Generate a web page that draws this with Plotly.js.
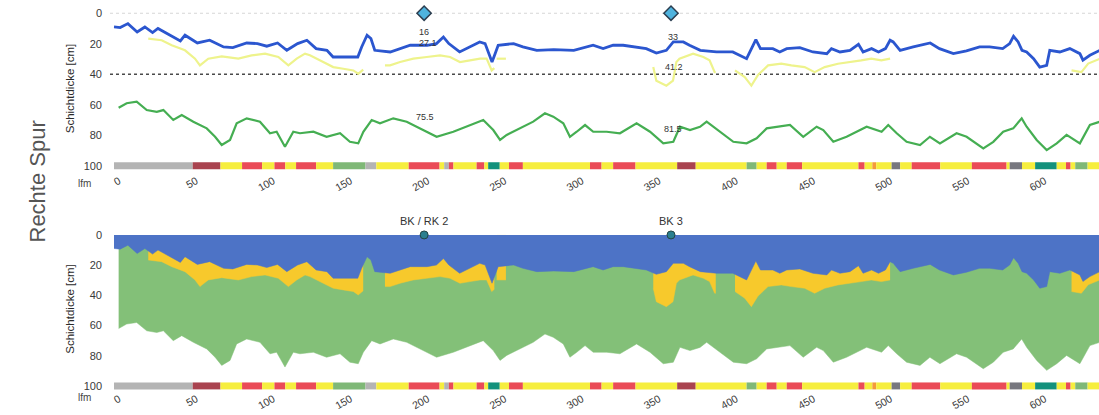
<!DOCTYPE html>
<html>
<head>
<meta charset="utf-8">
<script src="https://cdn.plot.ly/plotly-3.0.1.min.js"></script>
<style>html,body{margin:0;padding:0;background:#fff;}#chart{width:1099px;height:415px;}</style>
</head>
<body>
<div id="chart"></div>
<script>
// ---------- data (lfm = running metres, values = depth in cm) ----------
const blueX = [0, 4, 9, 15, 20, 25, 28.5, 34, 43, 46, 54, 62, 71, 77, 86, 93, 99, 106, 112, 119, 125, 131, 138, 142, 158, 160.5, 164, 166.5, 169, 179, 185, 192, 203, 209, 213.5, 217, 224, 231, 237, 240.5, 242.5, 245, 247, 249, 259, 265, 274, 285, 298, 310.5, 317, 323.5, 330, 336.5, 345, 351.5, 358, 362.5, 369, 373, 380, 390.5, 401, 410, 414, 416, 419, 427, 431.5, 436, 444.5, 453, 462, 465, 470.5, 477, 482.5, 485.5, 491, 495.5, 500, 503, 505, 509.5, 518, 529, 535, 544, 552.5, 561, 567.5, 576, 580.5, 583, 586, 588.5, 591.5, 596, 600, 604.5, 606.5, 613, 619.5, 626, 628, 632.5, 639];
const blueY = [9, 9.4, 6.8, 12.3, 9, 12.7, 10, 13.3, 18.2, 14.4, 19.5, 17.7, 22.1, 22.5, 19.5, 19.9, 21.6, 19.5, 24.3, 19.9, 17.7, 23.2, 24.3, 28.7, 28.7, 22.1, 14.4, 16.6, 24.3, 25.4, 23.2, 21, 21, 19.9, 15.6, 19.9, 25.4, 22.1, 18.8, 19.9, 25.4, 32, 26.5, 21, 19.9, 22.1, 24.3, 23.9, 24.3, 21, 23.2, 21, 21, 22.1, 23.2, 26.1, 24.3, 18.8, 18.8, 21, 24.3, 25.4, 25.4, 29.8, 22.1, 17.3, 23.2, 23.2, 25.4, 23.2, 22.5, 25.4, 26.5, 23.2, 25.4, 24.3, 20.4, 25.4, 23.2, 25.4, 23.2, 17.7, 18.8, 24.3, 22.1, 19.5, 23.2, 26.5, 24.7, 22.1, 22.1, 23.2, 19.9, 15.1, 18.8, 24.3, 25.4, 29.8, 35.3, 34.2, 24.3, 25.4, 23.2, 26.5, 30.8, 27.6, 24.3];

const yellowX = [22.2, 30.9, 37.4, 46, 52.5, 55.7, 61.1, 69.8, 80.6, 89.2, 97.9, 106.5, 113, 118.4, 123.8, 127, 135.6, 142.1, 148.6, 155.1, 158.3, 161.5, null,
  175.6, 178.9, 185.4, 194, 202.7, 211.3, 217.8, 224.2, 230.7, 237.2, 241.5, 244.8, 246.5, null,
  248, 251, 254, null,
  349.5, 351.5, 358, 362.3, 364.5, 366.5, 375.3, 382, 386, 389.3, 390, null,
  402.5, 408.8, 413.1, 417.4, 423.9, 432.5, 439, 447.6, 454.1, 460.6, 469.2, 477.9, 484.3, 490.8, 497.3, 503, null,
  620.6, 627, 631.4, 639];
const yellowY = [16.6, 17.7, 21, 24.3, 29.8, 34.2, 29.8, 28.3, 29.8, 27.6, 26.5, 28.7, 34.2, 29.8, 26.5, 27.6, 32, 35.3, 36.4, 37.5, 39.7, 37, null,
  34.2, 34.2, 32, 29.8, 28.7, 27.6, 28.7, 32, 30.9, 29.8, 29.8, 37.5, 36, null,
  29.8, 30, 29.8, null,
  35.3, 44.2, 47.5, 44.2, 32, 29.8, 26.5, 28.7, 30.9, 38.6, 38.6, null,
  37.5, 41.9, 47.5, 40.5, 34.2, 33.1, 34.2, 35.3, 38.6, 35.3, 33.1, 32, 30.9, 29.8, 30.9, 29.8, null,
  37.5, 38.6, 33, 29.8];

const greenX = [3, 8.2, 14.7, 21.2, 27.7, 32, 38.4, 43.9, 51.4, 60.1, 65.5, 69.8, 75.2, 79.5, 86, 94.6, 101.1, 105.4, 110.8, 116.2, 120.5, 129.2, 137.8, 146.5, 152.9, 158.3, 161.6, 167, 172.4, 181, 189.7, 198.3, 209.1, 219.9, 230.7, 239.3, 245.8, 250.2, 254.5, 263.1, 271.7, 279.3, 284.7, 291.2, 295.5, 299.9, 305.3, 310.6, 319.3, 327.9, 338.7, 347.4, 356, 362.5, 366.8, 373.3, 379.8, 384.1, 392.7, 401.4, 410, 416.5, 423, 431.6, 438.1, 446.7, 455.4, 459.7, 466.2, 474.8, 487.8, 497.5, 501.8, 507.3, 513.7, 522.4, 528.8, 535.3, 546.1, 552.6, 563.4, 569.9, 576.3, 582.8, 588.3, 591.5, 598, 604.5, 611, 617.4, 626, 632.5, 639];
const greenY = [62, 59, 58, 63.5, 64.6, 63.5, 70, 66.7, 71.1, 75.5, 81, 86.4, 83.1, 72.2, 68.9, 71.1, 78.7, 77.7, 87.5, 77.7, 78.7, 77.7, 81, 78.7, 84.3, 85.3, 77.7, 70, 72.2, 68.9, 71.1, 75.5, 81, 77.7, 73.3, 70, 76.6, 83.1, 79.8, 75.5, 71.1, 65.6, 67.8, 72.2, 81, 77.7, 73.3, 77.7, 77.7, 78.7, 72.2, 77.7, 85.3, 84.3, 74.4, 76.6, 74.5, 71.1, 77.7, 84.3, 85.3, 82, 75.5, 74.4, 73.3, 81, 74.4, 76.6, 84.3, 81, 74.4, 77.7, 73.3, 78.7, 84.3, 86.4, 81, 85.3, 78.7, 81, 88.6, 84.3, 77.7, 75.5, 68.9, 74.4, 83.1, 89.7, 85.3, 79.8, 85.3, 73.3, 71.1];

// classification strip at 100 cm
const stripStart = [0, 51, 69, 83, 96, 104, 111, 118, 131, 142, 163, 170, 191, 211, 214, 217, 220, 235, 240, 242.5, 250, 256, 265, 308.5, 316, 323.5, 338, 365, 377, 410, 416.5, 423, 429.5, 436, 446, 482.5, 486.5, 491.5, 494, 504, 509.5, 517, 535.5, 556, 578.5, 580.5, 588.5, 597, 611, 617, 620, 623, 631];
const stripEnd   = [51, 69, 83, 96, 104, 111, 118, 131, 142, 163, 170, 191, 211, 214, 217, 220, 235, 240, 242.5, 250, 256, 265, 308.5, 316, 323.5, 338, 365, 377, 410, 416.5, 423, 429.5, 436, 446, 482.5, 486.5, 491.5, 494, 504, 509.5, 517, 535.5, 556, 578.5, 580.5, 588.5, 597, 611, 617, 620, 623, 631, 639];
const stripClass = ['G','M','Y','R','Y','R','Y','R','Y','L','G','Y','R','Y','G','R','Y','R','Y','T','Y','R','Y','R','Y','R','Y','M','Y','L','Y','R','Y','R','Y','R','Y','O','Y','D','Y','R','Y','R','Y','D','Y','T','Y','R','Y','L','Y'];
const classColors = {G:'#b4b4b4', M:'#a9434f', Y:'#f6ee3e', R:'#ea4b57', L:'#7fb877', T:'#13917c', D:'#77777f', O:'#f39a3a'};

// core sample locations
const coreX = [201, 361];
const coreLabels = ['BK / RK 2', 'BK 3'];
const coreDepth = [0, 0];

// value labels in the upper chart
const valX = [201, 203.5, 362.3, 363, 201.6, 362.3];
const valY = [12.3, 19.5, 15.6, 35.2, 68, 75.9];
const valText = ['16', '27.1', '33', '41.2', '75.5', '81.5'];

const refDepth = 40;
const yTicks = [0, 20, 40, 60, 80, 100];
const stripDepth = 100;

// ---------- build ----------
const xRange = [-2.6, 638.4];
const stripBar = (xa, ya) => ({
  type: 'bar', orientation: 'h', xaxis: xa, yaxis: ya,
  y: stripStart.map(() => stripDepth),
  base: stripStart,
  x: stripStart.map((s, i) => stripEnd[i] - s),
  width: 4.6,
  marker: {color: stripClass.map(c => classColors[c]), line: {width: 0}},
  hoverinfo: 'skip'
});

// split the layer-2 series into its separate segments (for filling)
const yellowSegs = [];
let cur = {x: [], y: []};
yellowX.forEach((v, i) => {
  if (v === null) { if (cur.x.length) yellowSegs.push(cur); cur = {x: [], y: []}; }
  else { cur.x.push(v); cur.y.push(yellowY[i]); }
});
if (cur.x.length) yellowSegs.push(cur);

const traces = [
  // upper chart
  {type:'scatter', mode:'lines', x:xRange, y:[0,0], xaxis:'x', yaxis:'y',
   line:{color:'rgba(120,120,120,0.3)', width:1.2, dash:'dot'}, hoverinfo:'skip'},
  {type:'scatter', mode:'lines', x:xRange, y:[refDepth, refDepth], xaxis:'x', yaxis:'y',
   line:{color:'#4a4a4a', width:1.5, dash:'dot'}, hoverinfo:'skip'},
  {type:'scatter', mode:'lines', x:greenX, y:greenY, xaxis:'x', yaxis:'y',
   line:{color:'#45ae52', width:2.2}},
  {type:'scatter', mode:'lines', x:yellowX, y:yellowY, xaxis:'x', yaxis:'y',
   line:{color:'#eef38c', width:2.2}, connectgaps:false},
  {type:'scatter', mode:'lines', x:blueX, y:blueY, xaxis:'x', yaxis:'y',
   line:{color:'#2b56cf', width:2.8}},
  stripBar('x', 'y'),
  {type:'scatter', mode:'markers', x:coreX, y:coreDepth, xaxis:'x', yaxis:'y', cliponaxis:false,
   marker:{symbol:'diamond', size:11, color:'#4fb3de', line:{color:'#2c3e50', width:1.5}}},
  // lower chart (stacked layers)
  {type:'scatter', mode:'lines', x:greenX, y:greenY, xaxis:'x2', yaxis:'y2',
   fill:'tozeroy', fillcolor:'#83c078', line:{color:'#83c078', width:0.5}}
];
yellowSegs.forEach(s => traces.push({
  type:'scatter', mode:'lines', x:s.x, y:s.y, xaxis:'x2', yaxis:'y2',
  fill:'tozeroy', fillcolor:'#f7c92c', line:{color:'#f7c92c', width:0.5}
}));
traces.push(
  {type:'scatter', mode:'lines', x:blueX, y:blueY, xaxis:'x2', yaxis:'y2',
   fill:'tozeroy', fillcolor:'#4d73c6', line:{color:'#4d73c6', width:0.5}},
  stripBar('x2', 'y2'),
  {type:'scatter', mode:'markers', x:coreX, y:coreDepth, xaxis:'x2', yaxis:'y2', cliponaxis:false,
   marker:{symbol:'circle', size:8, color:'#2a7f8f', line:{color:'#244', width:1}}}
);

const xCommon = {
  domain:[110/1099, 1], range:xRange, tick0:0, dtick:50, tickangle:-30,
  showgrid:false, zeroline:false, showline:false, ticks:'',
  tickfont:{size:10.5, color:'#3a3a3a'}, ticklabelshift:5, ticklabelstandoff:0
};
const yCommon = {
  tickvals:yTicks, showgrid:false, zeroline:false, showline:false, ticks:'',
  tickfont:{size:11, color:'#3a3a3a'}, ticklabelstandoff:7,
  title:{text:'Schichtdicke [cm]', standoff:6, font:{size:11.5, color:'#2a2a2a'}}
};

const annotations = [
  {xref:'paper', yref:'paper', x:22/1099, y:1-182/415, text:'Rechte Spur', textangle:-90,
   showarrow:false, font:{size:22, color:'#555'}},
  {xref:'paper', yref:'paper', x:76/1099, y:1-183/415, text:'lfm', showarrow:false,
   font:{size:10, color:'#444'}},
  {xref:'paper', yref:'paper', x:76/1099, y:1-405/415, text:'lfm', showarrow:false,
   font:{size:10, color:'#444'}}
];
coreX.forEach((cx, i) => annotations.push({
  xref:'x2', yref:'y2', x:cx, y:coreDepth[i], yshift:14, text:coreLabels[i],
  showarrow:false, font:{size:11, color:'#333'}
}));
valX.forEach((vx, i) => annotations.push({
  xref:'x', yref:'y', x:vx, y:valY[i], text:valText[i], showarrow:false,
  font:{size:9, color:'#333'}
}));

const layout = {
  width:1099, height:415, margin:{l:0, r:0, t:0, b:0},
  paper_bgcolor:'#fff', plot_bgcolor:'rgba(0,0,0,0)', showlegend:false, barmode:'overlay',
  font:{family:'Liberation Sans, Arial, sans-serif', color:'#3a3a3a', size:11},
  xaxis:Object.assign({}, xCommon, {anchor:'y'}),
  xaxis2:Object.assign({}, xCommon, {anchor:'y2'}),
  yaxis:Object.assign({}, yCommon, {anchor:'x', domain:[1-172/415, 1-5/415], range:[104.1, -5.4]}),
  yaxis2:Object.assign({}, yCommon, {anchor:'x2', domain:[1-390/415, 1-228/415], range:[102.7, -4.6]}),
  annotations:annotations
};

Plotly.newPlot('chart', traces, layout, {staticPlot:true, displayModeBar:false});
</script>
</body>
</html>
